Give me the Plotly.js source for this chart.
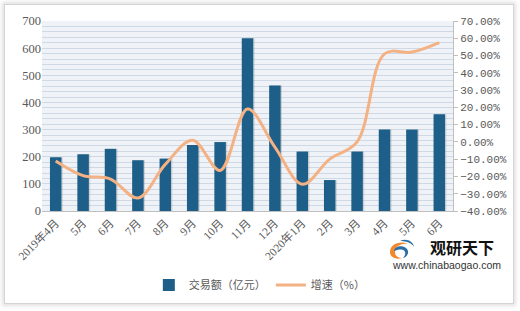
<!DOCTYPE html>
<html><head><meta charset="utf-8">
<script src="https://cdn.plot.ly/plotly-3.0.1.min.js"></script>
<style>
html,body{margin:0;padding:0;background:#ffffff;width:520px;height:311px;overflow:hidden;}
#frame{position:absolute;left:4px;top:4px;width:508px;height:298px;border:1px solid #d4d4d4;box-shadow:0 0 4px 2px rgba(0,0,0,0.12);background:#fff;}
#chart{position:absolute;left:0;top:0;width:520px;height:311px;}
#logo{position:absolute;left:386px;top:236px;}
</style></head>
<body>
<div id="frame"></div>
<div id="chart"></div>
<svg id="logo" width="32" height="26" viewBox="0 0 32 26">
  <path d="M4 16 C4 8 14 4 22 8 C16 7 9 10 9 16 C9 20 12 22 16 22 C9 24 4 21 4 16 Z" fill="#f0892f"/>
  <path d="M8 15 C9 10 16 9 20 12 C24 15 22 21 17 22 C20 19 20 15 17 14 C14 13 11 14 8 15 Z" fill="#2a6ea6"/>
  <path d="M14 5 C20 2 27 5 28 11 C26 7 20 5 14 5 Z" fill="#2a6ea6"/>
</svg>
<script>
const categories = ['2019年4月','5月','6月','7月','8月','9月','10月','11月','12月','2020年1月','2月','3月','4月','5月','6月'];
const amount = [198, 209, 229, 187, 193, 243, 254, 636, 462, 219, 114, 219, 300, 300, 356];
const growth = [-11, -19.5, -21.5, -32.5, -13, 1, -16.5, 19, -3, -24.5, -10, 0, 51, 52, 57.5];
const nameAmount = '交易额（亿元）';
const nameGrowth = '增速（%）';

const xs = categories.map((_, i) => i);

const W = 520, H = 311;
const m = {l:42, r:67, t:21, b:98};
const pw = W - m.l - m.r, ph = H - m.t - m.b;

const traces = [
  {type:'bar', x:xs, y:amount, width:0.42, offset:-0.16, marker:{color:'rgba(120,120,120,0.25)'}, hoverinfo:'skip', showlegend:false},
  {type:'bar', name:nameAmount, x:xs, y:amount, width:0.42, offset:-0.21, marker:{color:'#1d5f88'}},
  {type:'scatter', mode:'lines', name:nameGrowth, x:xs, y:growth, yaxis:'y2',
   line:{color:'#f4b183', width:3, shape:'spline', smoothing:1}}
];

const layout = {
  width:W, height:H,
  margin:m,
  paper_bgcolor:'rgba(0,0,0,0)',
  plot_bgcolor:'#eff3f7',
  barmode:'overlay',
  showlegend:true,
  legend:{orientation:'h', x:0.53, xanchor:'center', y:-0.39, yanchor:'middle',
    bgcolor:'#ffffff', font:{family:'Noto Sans CJK SC', size:11, color:'#595959'},
    itemwidth:30, tracegroupgap:0},
  font:{family:'Liberation Serif, Noto Sans CJK SC', color:'#595959'},
  xaxis:{tickmode:'array', tickvals:xs, ticktext:categories, tickangle:-45, ticks:'', showgrid:false, showline:true, linecolor:'#bfbfbf', linewidth:1,
    tickfont:{family:'Liberation Serif, Noto Sans CJK SC', size:11.5, color:'#595959'}, range:[-0.5, 14.5], zeroline:false},
  yaxis:{range:[0,700], dtick:100, showgrid:true, gridcolor:'#cfd9e5', gridwidth:1, zeroline:false,
    showline:false, ticks:'', tickfont:{family:'Liberation Serif', size:12.5, color:'#595959'},
    minor:{dtick:20, showgrid:true, gridcolor:'#cfd9e5', gridwidth:1}},
  yaxis2:{overlaying:'y', side:'right', range:[-40,70], dtick:10, tickformat:'.2f', ticksuffix:'%',
    showgrid:false, zeroline:false, showline:true, linecolor:'#bfbfbf', ticks:'outside', ticklen:4, tickcolor:'#bfbfbf',
    tickfont:{family:'Liberation Mono', size:11, color:'#595959'}},
  annotations:[
    {xref:'paper', yref:'paper', x:(462-m.l)/pw, y:(H-m.b-249)/ph, text:'<b>观研天下</b>', showarrow:false,
     font:{family:'Noto Sans CJK SC', size:16, color:'#111'}, xanchor:'center', yanchor:'middle'},
    {xref:'paper', yref:'paper', x:(446-m.l)/pw, y:(H-m.b-268)/ph, text:'www.chinabaogao.com', showarrow:false,
     font:{family:'Liberation Sans', size:10.5, color:'#333'}, xanchor:'center', yanchor:'middle'}
  ]
};

Plotly.newPlot('chart', traces, layout, {displayModeBar:false, staticPlot:true});
</script>
</body></html>
